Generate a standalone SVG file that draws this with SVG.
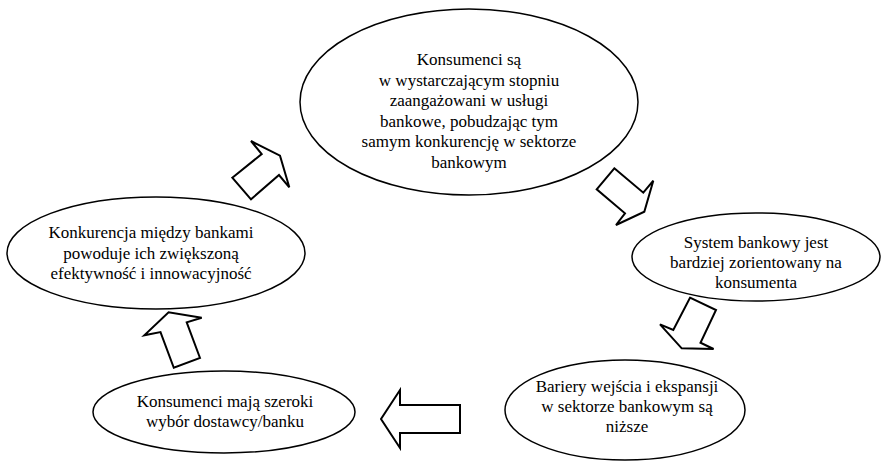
<svg xmlns="http://www.w3.org/2000/svg" width="884" height="466" viewBox="0 0 884 466">
<style>
.node ellipse{fill:#fff;stroke:#000;stroke-width:1.5}
.node text{font-size:17px;fill:#000;text-anchor:middle}
.arr{fill:#fff;stroke:#000;stroke-width:2;stroke-linejoin:miter}
</style>
<rect width="884" height="466" fill="#fff"/>
<g id="connectors">
<polygon class="arr" points="232.3,177.7 261.7,154 251,141 280,155.7 289.3,187.3 279,175 251,199.3"/>
<polygon class="arr" points="614.3,168.3 643.3,192.7 653.3,180.7 644.3,211.7 616,225 625,213.3 596.7,189.3"/>
<polygon class="arr" points="690,297.7 716,310 700.5,342.7 713.6,349 681.7,348.3 660,324.3 673.3,330"/>
<polygon class="arr" points="460,405 400,405 400,390 381,419 400,448 400,433 460,433"/>
<polygon class="arr" points="200,358 186.7,322.3 201.7,317.7 168.6,312.2 144.3,335.3 160.5,332.1 173.8,367.8"/>
</g>
<g font-family="'Liberation Serif', Tinos, 'Times New Roman', 'DejaVu Serif', serif">
<g id="n1" class="node">
<ellipse cx="469" cy="102" rx="169" ry="93"/>
<text x="469" y="65">Konsumenci są</text>
<text x="469" y="85.5">w wystarczającym stopniu</text>
<text x="469" y="106">zaangażowani w usługi</text>
<text x="469" y="126.5">bankowe, pobudzając tym</text>
<text x="469" y="147">samym konkurencję w sektorze</text>
<text x="469" y="167.5">bankowym</text>
</g>
<g id="n2" class="node">
<ellipse cx="756" cy="257" rx="124" ry="44"/>
<text x="756" y="248">System bankowy jest</text>
<text x="756" y="268">bardziej zorientowany na</text>
<text x="756" y="288">konsumenta</text>
</g>
<g id="n3" class="node">
<ellipse cx="625" cy="410" rx="120" ry="50"/>
<text x="627" y="392">Bariery wejścia i ekspansji</text>
<text x="627" y="412">w sektorze bankowym są</text>
<text x="627" y="432">niższe</text>
</g>
<g id="n4" class="node">
<ellipse cx="224" cy="412" rx="131" ry="41"/>
<text x="225" y="407">Konsumenci mają szeroki</text>
<text x="225" y="427">wybór dostawcy/banku</text>
</g>
<g id="n5" class="node">
<ellipse cx="156" cy="253" rx="149" ry="56"/>
<text x="151" y="238">Konkurencja między bankami</text>
<text x="151" y="258.5">powoduje ich zwiększoną</text>
<text x="151" y="279">efektywność i innowacyjność</text>
</g>
</g>
</svg>
